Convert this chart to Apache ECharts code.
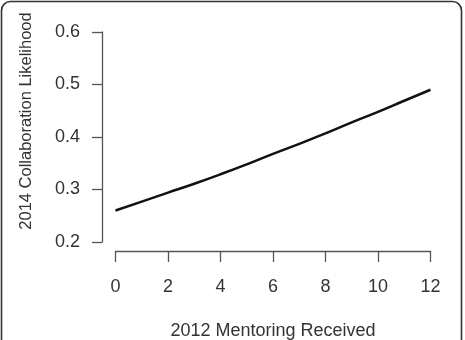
<!DOCTYPE html>
<html>
<head>
<meta charset="utf-8">
<script src="https://cdn.jsdelivr.net/npm/echarts@6/dist/echarts.min.js"></script>
<style>html,body{margin:0;padding:0;background:#fff;}#c{width:465px;height:340px;}</style>
</head>
<body>
<div id="c"></div>
<script>
var mentoring = [0,1,2,3,4,5,6,7,8,9,10,11,12];
var likelihood = [0.260,0.277,0.294,0.311,0.329,0.348,0.368,0.387,0.407,0.428,0.448,0.469,0.490];
var xTitle = '2012 Mentoring Received';
var yTitle = '2014 Collaboration Likelihood';

var chart = echarts.init(document.getElementById('c'), null, {renderer:'canvas'});
var font = 'Liberation Sans, Arial, sans-serif';
var data = mentoring.map(function(x,i){return [x, likelihood[i]];});
chart.setOption({
  animation:false,
  backgroundColor:'#fff',
  graphic:[{type:'rect', shape:{x:1.5,y:1.5,width:460,height:380,r:9}, style:{fill:'none',stroke:'#333',lineWidth:1.6}, z:-1}],
  grid:{left:115.5, right:34.5, top:32, bottom:98, containLabel:false, outerBoundsMode:'none'},
  xAxis:{type:'value', min:0, max:12, interval:2, offset:9,
    name:xTitle, nameLocation:'middle', nameGap:71.5,
    nameTextStyle:{fontFamily:font,fontSize:18,color:'#333'},
    axisLine:{show:true,onZero:false,lineStyle:{color:'#555',width:1.3}},
    axisTick:{show:true,length:11,lineStyle:{color:'#555',width:1.3}},
    axisLabel:{fontFamily:font,fontSize:18,color:'#333',margin:27},
    splitLine:{show:false}},
  yAxis:{type:'value', min:0.2, max:0.6, interval:0.1, offset:13.5,
    name:yTitle, nameLocation:'middle', nameGap:67, nameRotate:90,
    nameTextStyle:{fontFamily:font,fontSize:16.5,color:'#333',padding:[0,0,0,32]},
    axisLine:{show:true,onZero:false,lineStyle:{color:'#555',width:1.3}},
    axisTick:{show:true,length:10,lineStyle:{color:'#555',width:1.3}},
    axisLabel:{fontFamily:font,fontSize:18,color:'#333',margin:22,formatter:function(v){return v.toFixed(1);}},
    splitLine:{show:false}},
  series:[{type:'line', data:data, smooth:true, showSymbol:false, lineStyle:{color:'#111',width:2.5}}]
});
</script>
</body>
</html>
